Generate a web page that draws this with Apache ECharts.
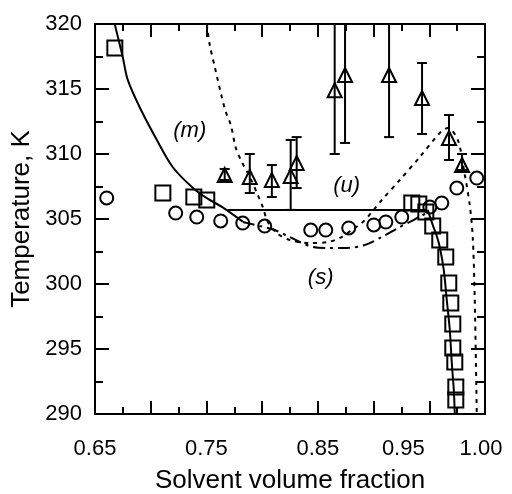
<!DOCTYPE html>
<html>
<head>
<meta charset="utf-8">
<script src="https://cdn.jsdelivr.net/npm/echarts@6/dist/echarts.min.js"></script>
<style>
  html, body { margin: 0; padding: 0; background: #fff; }
  #chart { width: 512px; height: 494px; }
</style>
</head>
<body>
<div id="chart"></div>
<script>
// etiquetas de los ejes
const xTickLabels = ['0.65', '0.75', '0.85', '0.95', '1.00'];

// curva (m), rama izquierda, linea de union y rama derecha
const mLeft = [[0.6677,320],[0.6749,317.46],[0.6794,315.7],[0.6901,313.6],[0.7054,311.1],[0.7197,309.0],[0.7377,307.4],[0.7503,306.6],[0.7646,305.9],[0.7826,304.8]];
const tieLine = [[0.769,305.7],[0.948,305.7]];
const mRight = [[0.9486,305.7],[0.9531,304.54],[0.9567,303.69],[0.9594,302.85],[0.963,301.08],[0.9657,298.77],[0.9684,296.46],[0.9702,293.92],[0.972,291.85],[0.9729,290]];

// curva (u) punteada
const uCurve = [[0.7504,320],[0.753,318.38],[0.7575,316.69],[0.7638,314.38],[0.7674,313.23],[0.7719,312.23],[0.7764,310.46],[0.7818,309.38],[0.789,308.23],[0.7961,306.85],[0.8006,305.92],[0.8051,304.77],[0.8141,303.85],[0.8249,303.38],[0.8428,303.15],[0.859,303.23],[0.8697,303.54],[0.8805,304.15],[0.8904,304.77],[0.8985,305.54],[0.9074,306.46],[0.9235,308.0],[0.9415,309.77],[0.9594,311.62],[0.9666,312.0],[0.9756,311.08],[0.9819,308.38],[0.9863,306.08],[0.989,303.62],[0.9908,298.77],[0.9926,290]];

// curva (s) punto-raya
const sCurve = [[0.7826,304.77],[0.7979,304.46],[0.8113,304.15],[0.823,303.69],[0.8338,303.23],[0.8455,302.85],[0.8607,302.77],[0.876,302.77],[0.8921,303.0],[0.9074,303.62],[0.9235,304.38],[0.9343,304.85],[0.9442,305.31],[0.9505,305.5]];

// datos experimentales
const squares = [[0.6678,318.15],[0.7109,307.0],[0.7387,306.7],[0.7503,306.46],[0.9343,306.23],[0.9406,306.15],[0.9469,305.54],[0.9531,304.46],[0.9594,303.38],[0.9648,302.08],[0.9675,300.08],[0.9693,298.54],[0.9711,296.92],[0.9711,295.08],[0.9729,294.0],[0.9738,292.08],[0.9738,291.08]];
const circles = [[0.6605,306.62],[0.7224,305.46],[0.7413,305.15],[0.7628,304.85],[0.7826,304.69],[0.8023,304.46],[0.8436,304.15],[0.8571,304.15],[0.8777,304.31],[0.9002,304.54],[0.911,304.77],[0.9253,305.15],[0.9505,305.92],[0.9612,306.23],[0.9747,307.38],[0.9926,308.15]];

const triX = [0.7664,0.7889,0.8087,0.8256,0.831,0.8651,0.8744,0.9139,0.9435,0.9677,0.9794];
const triY = [308.38,308.23,308.0,308.3,309.31,314.9,316.08,316.08,314.31,311.23,309.15];
const triLow = [308.0,307.0,306.69,305.7,307.38,310.0,310.85,311.3,311.54,309.54,308.77];
const triHigh = [308.85,310.0,309.15,311.08,311.3,321.0,321.3,320.85,317.0,313.0,310.0];

// etiquetas de las curvas
const annX = [0.735, 0.8758, 0.8525];
const annY = [311.77, 307.54, 300.46];
const annText = ['(m)', '(u)', '(s)'];

const FONT = 'Liberation Sans, Arial, sans-serif';
const chart = echarts.init(document.getElementById('chart'));

function ejeX(pos, labels) {
  return {
    type: 'value', position: pos, min: 0.65, max: 1.0, interval: 0.05,
    axisLine: { show: true, onZero: false, lineStyle: { color: '#000', width: 2 } },
    axisTick: { show: true, inside: true, length: 13, lineStyle: { color: '#000', width: 2 } },
    minorTick: { show: true, splitNumber: 2, length: 7, lineStyle: { color: '#000', width: 2 } },
    splitLine: { show: false }, minorSplitLine: { show: false },
    axisLabel: labels ? {
      show: true, margin: 24, color: '#000', fontSize: 22, fontFamily: FONT,
      formatter: function (v) {
        const s = v.toFixed(2);
        if (s === '0.95') return '{l|0.95}';
        if (s === '1.00') return '{e|1.00}';
        return xTickLabels.includes(s) ? s : '';
      },
      rich: {
        l: { padding: [0, 52, 0, 0], fontSize: 22, fontFamily: FONT, color: '#000' },
        e: { padding: [0, 8, 0, 0], fontSize: 22, fontFamily: FONT, color: '#000' }
      }
    } : { show: false },
    name: labels ? 'Solvent volume fraction' : '',
    nameLocation: 'middle', nameGap: 54,
    nameTextStyle: { color: '#000', fontSize: 26, fontFamily: FONT }
  };
}

function ejeY(pos, labels) {
  return {
    type: 'value', position: pos, min: 290, max: 320, interval: 5,
    axisLine: { show: true, onZero: false, lineStyle: { color: '#000', width: 2 } },
    axisTick: { show: true, inside: true, length: 14, lineStyle: { color: '#000', width: 2 } },
    minorTick: { show: true, splitNumber: 2, length: 8, lineStyle: { color: '#000', width: 2 } },
    splitLine: { show: false }, minorSplitLine: { show: false },
    axisLabel: labels ? { show: true, margin: 13, color: '#000', fontSize: 22, fontFamily: FONT } : { show: false },
    name: labels ? 'Temperature, K' : '',
    nameLocation: 'middle', nameGap: 58,
    nameTextStyle: { color: '#000', fontSize: 26, fontFamily: FONT }
  };
}

function linea(data, type, width) {
  return {
    type: 'line', data: data, symbol: 'none', smooth: 0.3, silent: true,
    lineStyle: { color: '#000', width: width, type: type }, z: 2
  };
}

function puntos(data, symbol, size) {
  return {
    type: 'scatter', data: data, symbol: symbol, symbolSize: size,
    itemStyle: { color: 'rgba(0,0,0,0)', borderColor: '#000', borderWidth: 2, opacity: 1 }, z: 4
  };
}

const barras = triX.map((x, i) => [x, triLow[i], triHigh[i]]);

const option = {
  animation: false,
  backgroundColor: '#fff',
  grid: { left: 95, right: 27, top: 24, bottom: 80, containLabel: false, outerBoundsMode: 'none' },
  xAxis: [ejeX('bottom', true), ejeX('top', false)],
  yAxis: [ejeY('left', true), ejeY('right', false)],
  series: [
    linea(mLeft, 'solid', 2),
    linea(tieLine, 'solid', 2),
    linea(mRight, 'solid', 2),
    linea(uCurve, [4, 5], 2),
    linea(sCurve, [12, 5, 3, 5], 2),
    {
      type: 'custom', clip: true, z: 3, data: barras,
      renderItem: function (params, api) {
        const lo = api.coord([api.value(0), api.value(1)]);
        const hi = api.coord([api.value(0), api.value(2)]);
        const st = { stroke: '#000', lineWidth: 2 };
        return {
          type: 'group', children: [
            { type: 'line', shape: { x1: lo[0], y1: lo[1], x2: hi[0], y2: hi[1] }, style: st },
            { type: 'line', shape: { x1: lo[0] - 5, y1: lo[1], x2: lo[0] + 5, y2: lo[1] }, style: st },
            { type: 'line', shape: { x1: hi[0] - 5, y1: hi[1], x2: hi[0] + 5, y2: hi[1] }, style: st }
          ]
        };
      }
    },
    puntos(squares, 'rect', 15),
    puntos(circles, 'circle', 13),
    puntos(triX.map((x, i) => [x, triY[i]]), 'triangle', 14),
    {
      type: 'scatter', symbolSize: 0, silent: true, z: 5,
      itemStyle: { opacity: 1 },
      data: annX.map((x, i) => ({ value: [x, annY[i]], name: annText[i] })),
      label: {
        show: true, position: 'inside', formatter: '{b}',
        color: '#000', fontSize: 22, fontStyle: 'italic', fontFamily: FONT
      }
    }
  ]
};
chart.setOption(option);
</script>
</body>
</html>
